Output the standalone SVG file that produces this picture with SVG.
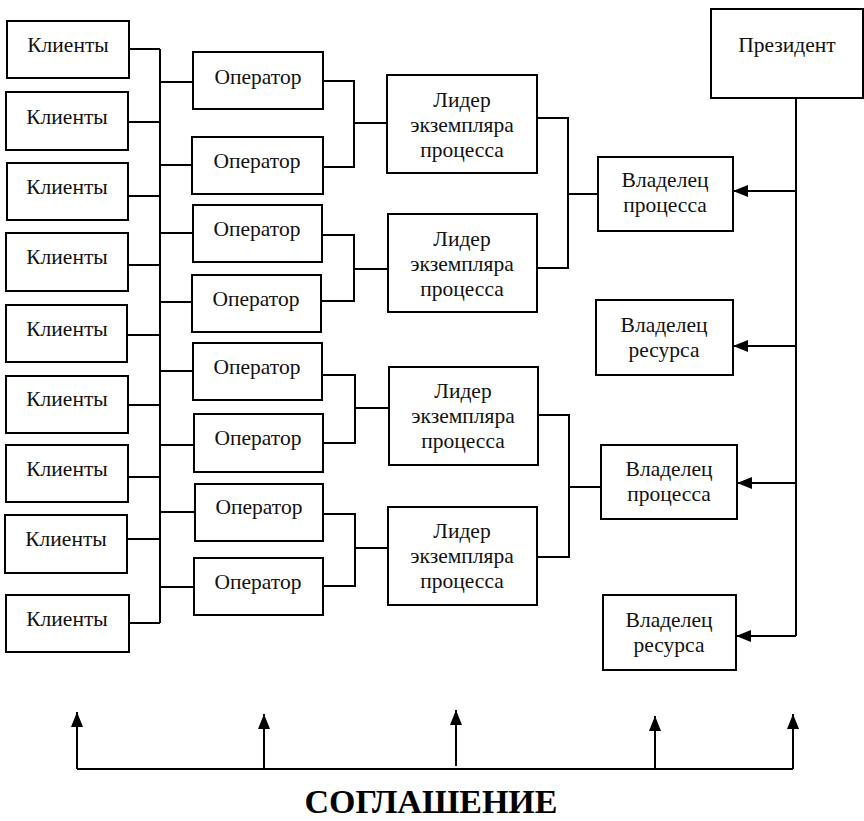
<svg xmlns="http://www.w3.org/2000/svg" width="864" height="821" viewBox="0 0 864 821">
  <style>
    .box { fill: #fff; stroke: #000; stroke-width: 2; }
    .lbl { font-family: "Liberation Serif", "Times New Roman", "DejaVu Serif", serif; font-size: 21.5px; fill: #111; text-anchor: middle; }
    .title { font-family: "Liberation Serif", "Times New Roman", "DejaVu Serif", serif; font-size: 34px; font-weight: bold; fill: #000; text-anchor: middle; }
    .wire { fill: none; stroke: #000; stroke-width: 2; }
    .arrow { fill: none; stroke: #000; stroke-width: 2; marker-end: url(#head); }
  </style>
  <defs>
    <marker id="head" markerUnits="userSpaceOnUse" markerWidth="15" markerHeight="12" refX="15" refY="6" orient="auto">
      <path d="M0,0 L15,6 L0,12 z" fill="#000"/>
    </marker>
  </defs>
  <rect width="864" height="821" fill="#fff"/>

  <!-- connectors -->
  <g id="connectors">
    <!-- client bus -->
    <path class="wire" d="M160,49 V623"/>
    <path class="wire" d="M129,49 H160 M128,122 H160 M128,196 H160 M128,265 H160 M127,335 H160 M128,405 H160 M128,477 H160 M127,539 H160 M129,623 H160"/>
    <!-- bus to operators -->
    <path class="wire" d="M160,82 H193 M160,165 H192 M160,233 H193 M160,302 H192 M160,371 H193 M160,445 H194 M160,512 H195 M160,587 H194"/>
    <!-- operators to instance leaders -->
    <path class="wire" d="M323,81 H354 V167 H323 M354,123 H387"/>
    <path class="wire" d="M322,235 H354 V301 H321 M354,269 H388"/>
    <path class="wire" d="M322,375 H355 V443 H323 M355,408 H389"/>
    <path class="wire" d="M323,514 H355 V586 H323 M355,548 H388"/>
    <!-- instance leaders to process owners -->
    <path class="wire" d="M537,118 H568 V268 H537 M568,194 H598"/>
    <path class="wire" d="M538,415 H569 V557 H537 M569,487 H601"/>
    <!-- president line and arrows -->
    <path class="wire" d="M796,98 V636"/>
    <path class="arrow" d="M796,191 H733"/>
    <path class="arrow" d="M796,346 H733"/>
    <path class="arrow" d="M796,483 H737"/>
    <path class="arrow" d="M796,636 H736"/>
    <!-- agreement line and arrows -->
    <path class="wire" d="M77,769 H793"/>
    <path class="arrow" d="M77,769 V712"/>
    <path class="arrow" d="M264,769 V714"/>
    <path class="arrow" d="M456,766 V710"/>
    <path class="arrow" d="M655,769 V716"/>
    <path class="arrow" d="M793,769 V714"/>
  </g>

  <!-- clients -->
  <g id="client1"><rect class="box" x="7" y="21" width="122" height="57"/><text class="lbl" x="68" y="52">Клиенты</text></g>
  <g id="client2"><rect class="box" x="6" y="92" width="122" height="58"/><text class="lbl" x="67" y="124">Клиенты</text></g>
  <g id="client3"><rect class="box" x="7" y="163" width="121" height="57"/><text class="lbl" x="67" y="194">Клиенты</text></g>
  <g id="client4"><rect class="box" x="6" y="233" width="122" height="58"/><text class="lbl" x="67" y="264">Клиенты</text></g>
  <g id="client5"><rect class="box" x="6" y="305" width="121" height="57"/><text class="lbl" x="67" y="336">Клиенты</text></g>
  <g id="client6"><rect class="box" x="6" y="376" width="122" height="57"/><text class="lbl" x="67" y="406">Клиенты</text></g>
  <g id="client7"><rect class="box" x="6" y="445" width="122" height="57"/><text class="lbl" x="67" y="476">Клиенты</text></g>
  <g id="client8"><rect class="box" x="5" y="515" width="122" height="58"/><text class="lbl" x="66" y="546">Клиенты</text></g>
  <g id="client9"><rect class="box" x="6" y="595" width="123" height="57"/><text class="lbl" x="67" y="626">Клиенты</text></g>

  <!-- operators -->
  <g id="operator1"><rect class="box" x="193" y="52" width="130" height="57"/><text class="lbl" x="258" y="84">Оператор</text></g>
  <g id="operator2"><rect class="box" x="192" y="137" width="131" height="57"/><text class="lbl" x="257" y="168">Оператор</text></g>
  <g id="operator3"><rect class="box" x="193" y="205" width="129" height="57"/><text class="lbl" x="257" y="236">Оператор</text></g>
  <g id="operator4"><rect class="box" x="192" y="275" width="129" height="57"/><text class="lbl" x="256" y="306">Оператор</text></g>
  <g id="operator5"><rect class="box" x="193" y="343" width="129" height="57"/><text class="lbl" x="257" y="374">Оператор</text></g>
  <g id="operator6"><rect class="box" x="194" y="414" width="129" height="58"/><text class="lbl" x="258" y="445">Оператор</text></g>
  <g id="operator7"><rect class="box" x="195" y="484" width="128" height="57"/><text class="lbl" x="259" y="514">Оператор</text></g>
  <g id="operator8"><rect class="box" x="194" y="558" width="129" height="57"/><text class="lbl" x="258" y="589">Оператор</text></g>

  <!-- process instance leaders -->
  <g id="leader1"><rect class="box" x="387" y="75" width="150" height="98"/>
    <text class="lbl" x="462" y="107">Лидер</text><text class="lbl" x="462" y="132">экземпляра</text><text class="lbl" x="462" y="157">процесса</text></g>
  <g id="leader2"><rect class="box" x="388" y="214" width="149" height="98"/>
    <text class="lbl" x="462" y="246">Лидер</text><text class="lbl" x="462" y="271">экземпляра</text><text class="lbl" x="462" y="296">процесса</text></g>
  <g id="leader3"><rect class="box" x="389" y="367" width="149" height="98"/>
    <text class="lbl" x="463" y="398">Лидер</text><text class="lbl" x="463" y="423">экземпляра</text><text class="lbl" x="463" y="448">процесса</text></g>
  <g id="leader4"><rect class="box" x="388" y="507" width="149" height="98"/>
    <text class="lbl" x="462" y="538">Лидер</text><text class="lbl" x="462" y="563">экземпляра</text><text class="lbl" x="462" y="588">процесса</text></g>

  <!-- owners -->
  <g id="process-owner1"><rect class="box" x="598" y="157" width="135" height="74"/>
    <text class="lbl" x="665" y="187">Владелец</text><text class="lbl" x="665" y="212">процесса</text></g>
  <g id="resource-owner1"><rect class="box" x="596" y="300" width="137" height="75"/>
    <text class="lbl" x="664" y="332">Владелец</text><text class="lbl" x="664" y="357">ресурса</text></g>
  <g id="process-owner2"><rect class="box" x="601" y="445" width="136" height="74"/>
    <text class="lbl" x="669" y="476">Владелец</text><text class="lbl" x="669" y="501">процесса</text></g>
  <g id="resource-owner2"><rect class="box" x="603" y="595" width="133" height="75"/>
    <text class="lbl" x="669" y="627">Владелец</text><text class="lbl" x="669" y="652">ресурса</text></g>

  <!-- president -->
  <g id="president"><rect class="box" x="711" y="9" width="152" height="89"/>
    <text class="lbl" x="787" y="52">Президент</text></g>

  <!-- agreement caption -->
  <text class="title" x="431" y="813">СОГЛАШЕНИЕ</text>
</svg>
